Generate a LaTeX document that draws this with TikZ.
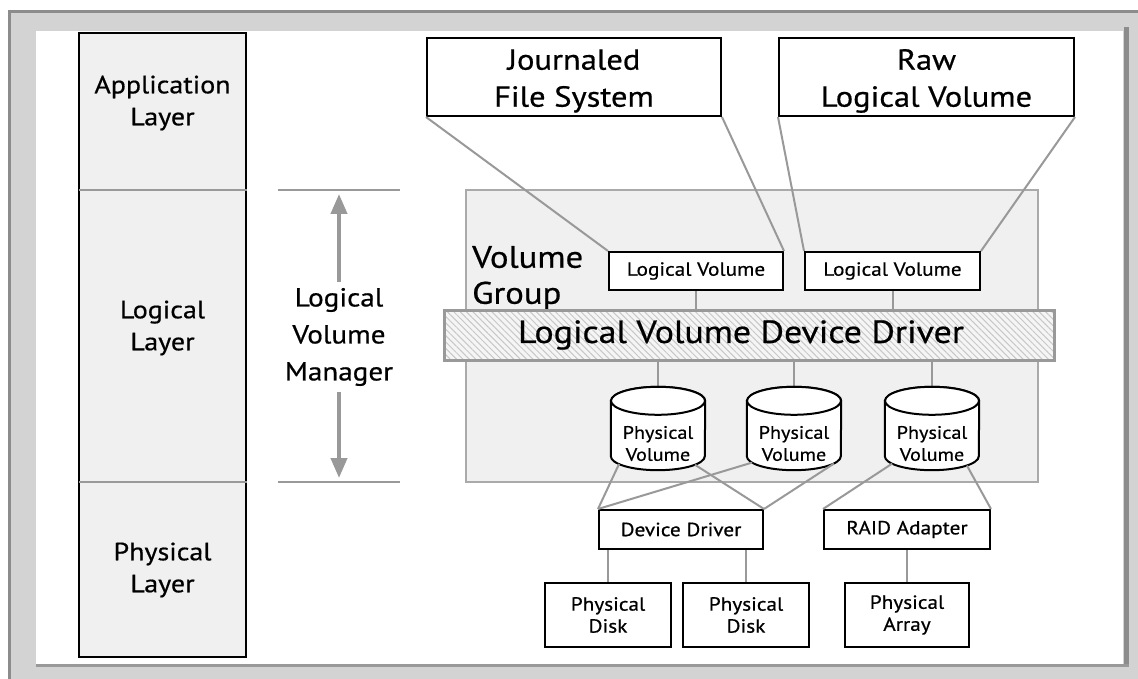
\documentclass[tikz,border=0pt]{standalone}
\usepackage{fontspec}
\setmainfont{PT Sans}[FakeStretch=1.12, FakeBold=0.6]
\usetikzlibrary{arrows.meta,calc,patterns.meta}

\definecolor{panelgray}{HTML}{D3D3D3}
\definecolor{framedark}{HTML}{8C8C8C}
\definecolor{layerfill}{HTML}{F0F0F0}
\definecolor{wire}{HTML}{999999}
\definecolor{vgedge}{HTML}{AAAAAA}

\tikzset{
  box/.style={draw=black, line width=2pt, fill=white, align=center, inner sep=0pt},
  bigtext/.style={font=\fontsize{29}{37}\selectfont, align=center},
  layertext/.style={font=\fontsize{25}{32}\selectfont, align=center},
  smalltext/.style={font=\fontsize{19}{22}\selectfont, align=center},
  wireline/.style={draw=wire, line width=2pt},
  cylline/.style={draw=black, line width=2pt, fill=white},
  lvmarrow/.style={draw=wire, line width=4pt, -{Triangle[length=20pt,width=16pt]}, shorten >=4pt},
}

% drum outline for a physical volume, drawn around an invisible node
\newcommand\pvdrum[1]{%
  \draw[cylline] ($(#1.north west)+(0,14)$) -- ($(#1.south west)+(0,-14)$)
    arc[start angle=180,end angle=0,x radius=47,y radius=14]
    -- ($(#1.north east)+(0,14)$)
    arc[start angle=0,end angle=-180,x radius=47,y radius=14] -- cycle;
  \draw[cylline] ($(#1.north)+(0,14)$) ellipse[x radius=47,y radius=14];
}

\begin{document}
\begin{tikzpicture}[x=1pt,y=-1pt]
\useasboundingbox (0,0) rectangle (1138,679);

% window frame
\fill[panelgray] (8,10) rectangle (1138,679);
\draw[framedark, line width=3pt] (9.5,679) -- (9.5,11.5) -- (1138,11.5);
\fill[white] (36,31) rectangle (1123,664);
\draw[framedark, line width=5pt] (1126,27) -- (1126,666);
\draw[wire, line width=3pt] (36,665.5) -- (1128.5,665.5);

% layer column
\node[draw=black, line width=2pt, fill=layerfill, minimum width=167pt, minimum height=624pt,
      inner sep=0pt] (layers) at (162.5,345) {};
\draw[black, line width=1.5pt] ($(layers.north west)+(1,0)$) -- ($(layers.south west)+(1,-1)$)
  -- ($(layers.south east)+(0,-1)$);
\coordinate (divA) at (79,190);
\coordinate (divB) at (79,482);
\draw[wireline] (divA) -- (divA -| layers.east);
\draw[wireline] (divB) -- (divB -| layers.east);
\node[layertext] (applayer) at (162.5,103) {Application\\Layer};
\node[layertext] (loglayer) at (162.5,328) {Logical\\Layer};
\node[layertext] (phylayer) at (162.5,570) {Physical\\Layer};

% logical volume manager span
\coordinate (lvmtop) at (339,190);
\coordinate (lvmbot) at (339,482);
\draw[wireline] (278,190) -- (400,190);
\draw[wireline] (278,482) -- (400,482);
\node[layertext, font=\fontsize{26}{37}\selectfont, inner sep=6pt] (lvm) at (339,337)
  {Logical\\Volume\\Manager};
\draw[lvmarrow] (lvm.north) -- (lvmtop);
\draw[lvmarrow] (lvm.south) -- (lvmbot);

% volume group
\node[draw=vgedge, line width=2pt, fill=layerfill, minimum width=572pt, minimum height=292pt,
      inner sep=0pt] (vg) at (752,336) {};
\node[font=\fontsize{31}{36}\selectfont, align=left, anchor=west, inner sep=0pt] (vglabel)
  at (472,278) {Volume\\Group};

% application layer boxes
\node[box, minimum width=294pt, minimum height=78pt] (jfs) at (574,77) {};
\node[bigtext] (jfslabel) at ($(jfs)+(0,4)$) {Journaled\\File System};
\node[box, minimum width=295pt, minimum height=78pt] (rlv) at (926.5,77) {};
\node[bigtext] (rlvlabel) at ($(rlv)+(0,4)$) {Raw\\Logical Volume};

% logical volumes
\node[box, smalltext, minimum width=174pt, minimum height=38pt] (lv1) at (696,271) {Logical Volume};
\node[box, smalltext, minimum width=175pt, minimum height=38pt] (lv2) at (892.5,271) {Logical Volume};

\draw[wireline] (jfs.south west) -- (lv1.north west);
\draw[wireline] (jfs.south east) -- (lv1.north east);
\draw[wireline] (rlv.south west) -- (lv2.north west);
\draw[wireline] (rlv.south east) -- (lv2.north east);

% logical volume device driver
\node[draw=wire, line width=3pt, minimum width=610pt, minimum height=50pt, inner sep=0pt,
      preaction={fill=white!96!black},
      pattern={Lines[angle=-45,distance=4.5pt,line width=1pt]}, pattern color=black!22] (lvdd)
  at (749,335) {};
\node[font=\fontsize{32}{36}\selectfont] (lvddlabel) at ($(lvdd)+(-8,0)$) {Logical Volume Device Driver};

\draw[wireline] (lv1.south) -- (lv1.south |- lvdd.north);
\draw[wireline] (lv2.south) -- (lv2.south |- lvdd.north);

% physical volumes
\node[minimum width=94pt, minimum height=83pt, inner sep=0pt] (pv1) at (658,428.5) {};
\node[minimum width=94pt, minimum height=83pt, inner sep=0pt] (pv2) at (794,428.5) {};
\node[minimum width=94pt, minimum height=83pt, inner sep=0pt] (pv3) at (932,428.5) {};

\draw[wireline] (pv1.north |- lvdd.south) -- (pv1.north);
\draw[wireline] (pv2.north |- lvdd.south) -- (pv2.north);
\draw[wireline] (pv3.north |- lvdd.south) -- (pv3.north);

\pvdrum{pv1}
\pvdrum{pv2}
\pvdrum{pv3}
\node[smalltext, font=\fontsize{18}{22}\selectfont] (pv1label) at ($(pv1)+(0,15)$) {Physical\\Volume};
\node[smalltext, font=\fontsize{18}{22}\selectfont] (pv2label) at ($(pv2)+(0,15)$) {Physical\\Volume};
\node[smalltext, font=\fontsize{18}{22}\selectfont] (pv3label) at ($(pv3)+(0,15)$) {Physical\\Volume};

% adapters
\node[box, smalltext, minimum width=164pt, minimum height=39pt] (dd) at (681,529.5) {Device Driver};
\node[box, smalltext, minimum width=166pt, minimum height=39pt] (raid) at (907,529.5) {RAID Adapter};

\draw[wireline] ($(pv1.south)+(0,-14)+(146:47 and 14)$) -- (dd.north west);
\draw[wireline] ($(pv1.south)+(0,-14)+(38:47 and 14)$) -- (dd.north east);
\draw[wireline] ($(pv2.south)+(0,-14)+(153:47 and 14)$) -- (dd.north west);
\draw[wireline] ($(pv2.south)+(0,-14)+(32:47 and 14)$) -- (dd.north east);
\draw[wireline] ($(pv3.south)+(0,-14)+(148:47 and 14)$) -- (raid.north west);
\draw[wireline] ($(pv3.south)+(0,-14)+(42:47 and 14)$) -- (raid.north east);

% physical devices
\node[box, smalltext, minimum width=126pt, minimum height=64pt] (pd1) at (608,615) {Physical\\Disk};
\node[box, smalltext, minimum width=126pt, minimum height=64pt] (pd2) at (746,615) {Physical\\Disk};
\node[box, smalltext, minimum width=124pt, minimum height=64pt] (pa) at (907,615) {Physical\\Array};

\draw[wireline] (dd.south -| pd1.north) -- (pd1.north);
\draw[wireline] (dd.south -| pd2.north) -- (pd2.north);
\draw[wireline] (raid.south) -- (pa.north);
\end{tikzpicture}
\end{document}
